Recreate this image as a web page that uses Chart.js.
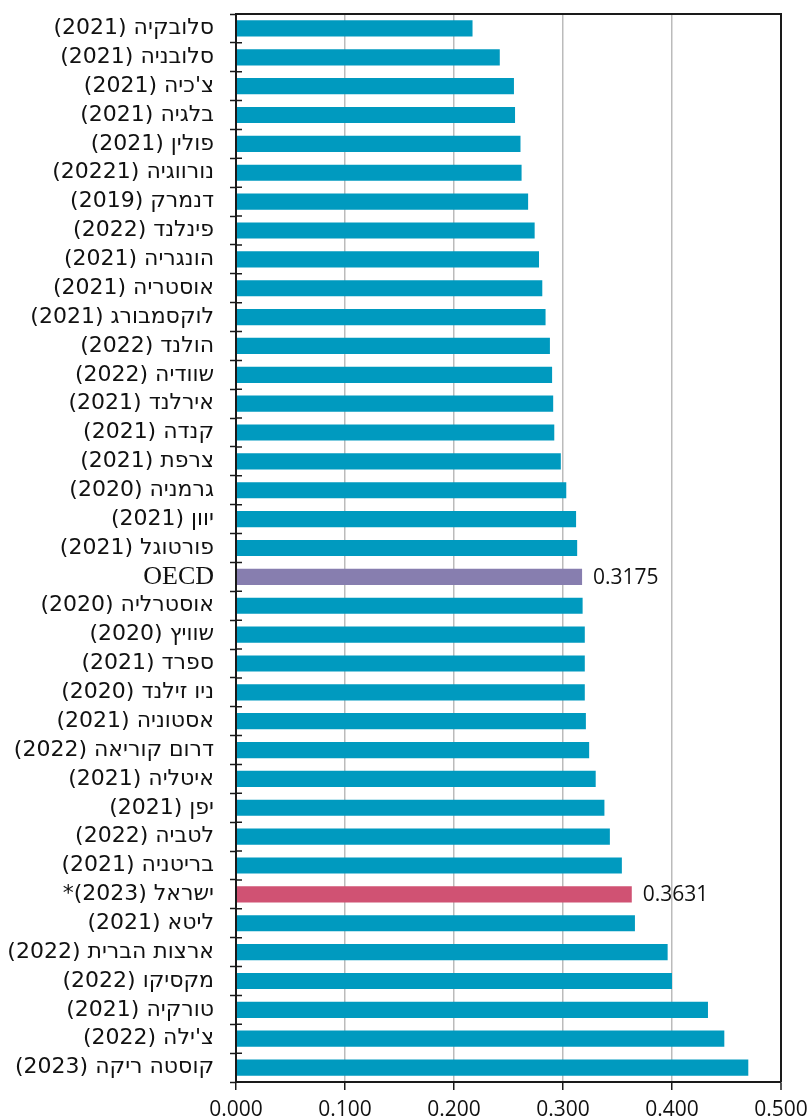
<!DOCTYPE html>
<html>
<head>
<meta charset="utf-8">
<script src="https://cdn.jsdelivr.net/npm/chart.js@4.4.1/dist/chart.umd.min.js"></script>
<style>
  html, body { margin: 0; padding: 0; background: #ffffff; }
  #wrap { width: 811px; height: 1120px; position: relative; }
</style>
</head>
<body>
<div id="wrap"><canvas id="chart" dir="rtl"></canvas></div>
<script>
// ---- data (top to bottom) ----
const categories = [
  "סלובקיה (2021)",
  "סלובניה (2021)",
  "צ'כיה (2021)",
  "בלגיה (2021)",
  "פולין (2021)",
  "נורווגיה (20221)",
  "דנמרק (2019)",
  "פינלנד (2022)",
  "הונגריה (2021)",
  "אוסטריה (2021)",
  "לוקסמבורג (2021)",
  "הולנד (2022)",
  "שוודיה (2022)",
  "אירלנד (2021)",
  "קנדה (2021)",
  "צרפת (2021)",
  "גרמניה (2020)",
  "יוון (2021)",
  "פורטוגל (2021)",
  "OECD",
  "אוסטרליה (2020)",
  "שוויץ (2020)",
  "ספרד (2021)",
  "ניו זילנד (2020)",
  "אסטוניה (2021)",
  "דרום קוריאה (2022)",
  "איטליה (2021)",
  "יפן (2021)",
  "לטביה (2022)",
  "בריטניה (2021)",
  "ישראל (2023)*",
  "ליטא (2021)",
  "ארצות הברית (2022)",
  "מקסיקו (2022)",
  "טורקיה (2021)",
  "צ'ילה (2022)",
  "קוסטה ריקה (2023)"
];
const giniValues = [
  0.217, 0.242, 0.255, 0.256, 0.261, 0.262, 0.268, 0.274, 0.278, 0.281,
  0.284, 0.288, 0.290, 0.291, 0.292, 0.298, 0.303, 0.312, 0.313, 0.3175,
  0.318, 0.320, 0.320, 0.320, 0.321, 0.324, 0.330, 0.338, 0.343, 0.354,
  0.3631, 0.366, 0.396, 0.400, 0.433, 0.448, 0.470
];
const oecdCategory = "OECD";
const israelCategory = "ישראל (2023)*";
const valueLabelCategories = [oecdCategory, israelCategory];
const xTickValues = [0, 0.1, 0.2, 0.3, 0.4, 0.5];

// ---- styles ----
const COLOR_MAIN = "#009ABF";
const COLOR_OECD = "#877EAF";
const COLOR_ISRAEL = "#D05273";
const barColors = categories.map(c => c === oecdCategory ? COLOR_OECD : (c === israelCategory ? COLOR_ISRAEL : COLOR_MAIN));

const HEB_FONT = '"DejaVu Sans", sans-serif';
const NUM_FONT = '"Open Sans", "DejaVu Sans", sans-serif';
const SERIF_FONT = '"Liberation Serif", "DejaVu Serif", serif';

const framePlugin = {
  id: 'framePlugin',
  afterDatasetsDraw(chart) {
    const ctx = chart.ctx;
    const a = chart.chartArea;
    const y = chart.scales.y;
    ctx.save();
    ctx.strokeStyle = '#1a1a1a';
    ctx.lineWidth = 2;
    ctx.beginPath();
    ctx.moveTo(a.left, a.bottom);
    ctx.lineTo(a.left, a.top);
    ctx.lineTo(a.right, a.top);
    ctx.lineTo(a.right, a.bottom);
    ctx.stroke();
    // inner half of the category tick marks
    ctx.lineWidth = 1.5;
    const n = y.ticks.length;
    const step = n > 1 ? (y.getPixelForTick(1) - y.getPixelForTick(0)) : 0;
    ctx.beginPath();
    for (let i = 0; i <= n; i++) {
      const py = (i < n ? y.getPixelForTick(i) : y.getPixelForTick(n - 1) + step) - step / 2;
      ctx.moveTo(a.left, py);
      ctx.lineTo(a.left + 6, py);
    }
    ctx.stroke();
    // value labels
    const meta = chart.getDatasetMeta(0);
    ctx.fillStyle = '#111';
    ctx.font = '21px ' + NUM_FONT;
    ctx.textAlign = 'left';
    ctx.textBaseline = 'middle';
    categories.forEach((c, i) => {
      if (valueLabelCategories.includes(c)) {
        const el = meta.data[i];
        ctx.fillText(giniValues[i].toFixed(4), el.x + 11, el.y + 1);
      }
    });
    ctx.restore();
  }
};

new Chart(document.getElementById('chart'), {
  type: 'bar',
  data: {
    labels: categories,
    datasets: [{
      data: giniValues,
      backgroundColor: barColors,
      borderColor: barColors,
      borderWidth: 0,
      categoryPercentage: 0.56,
      barPercentage: 1.0
    }]
  },
  options: {
    indexAxis: 'y',
    responsive: true,
    maintainAspectRatio: false,
    animation: false,
    layout: { padding: { top: 14, right: 30, bottom: 0, left: 0 } },
    plugins: { legend: { display: false }, tooltip: { enabled: false } },
    scales: {
      x: {
        type: 'linear',
        min: 0,
        max: 0.5,
        afterBuildTicks: s => { s.ticks = xTickValues.map(v => ({ value: v })); },
        ticks: {
          callback: v => Number(v).toFixed(3),
          font: { family: NUM_FONT, size: 21 },
          color: '#111',
          padding: 7,
          maxRotation: 0
        },
        grid: {
          color: ctx => (ctx.tick && ctx.tick.value === 0.5) ? '#1a1a1a' : '#BBBBBB',
          lineWidth: ctx => (ctx.tick && ctx.tick.value === 0.5) ? 2 : 1.5,
          tickColor: '#1a1a1a',
          tickLength: 8,
          tickWidth: 1.5
        },
        border: { display: true, color: '#1a1a1a', width: 2 },
        afterFit: s => { s.height = 38; s.paddingLeft = 0; s.paddingRight = 0; }
      },
      y: {
        type: 'category',
        ticks: {
          color: '#111',
          padding: 16,
          autoSkip: false,
          font: ctx => (ctx.tick && ctx.tick.label === oecdCategory)
            ? { family: SERIF_FONT, size: 26 }
            : { family: HEB_FONT, size: 22 }
        },
        grid: {
          offset: true,
          drawOnChartArea: false,
          tickLength: 6,
          tickColor: '#1a1a1a',
          tickWidth: 1.5
        },
        border: { display: true, color: '#1a1a1a', width: 2 },
        afterFit: s => { s.width = 236; s.paddingTop = 0; s.paddingBottom = 0; }
      }
    }
  },
  plugins: [framePlugin]
});
</script>
</body>
</html>
